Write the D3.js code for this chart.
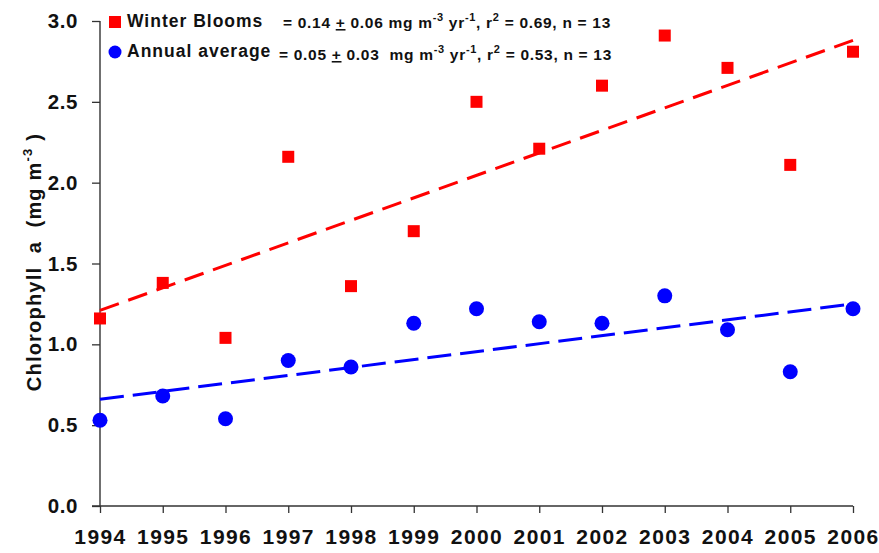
<!DOCTYPE html>
<html>
<head>
<meta charset="utf-8">
<script src="https://cdn.jsdelivr.net/npm/d3@7"></script>
<style>
  html, body { margin: 0; padding: 0; background: #fff; }
  svg { display: block; font-family: "Liberation Sans", Arial, sans-serif; }
</style>
</head>
<body>
<svg id="chart" width="879" height="553"></svg>
<script>
const years = [1994, 1995, 1996, 1997, 1998, 1999, 2000, 2001, 2002, 2003, 2004, 2005, 2006];
const winterBlooms = [1.16, 1.38, 1.04, 2.16, 1.36, 1.70, 2.50, 2.21, 2.60, 2.91, 2.71, 2.11, 2.81];
const annualAverage = [0.53, 0.68, 0.54, 0.90, 0.86, 1.13, 1.22, 1.14, 1.13, 1.30, 1.09, 0.83, 1.22];
const trendYears = [1994, 2006];
const winterTrend = [1.21, 2.88];
const annualTrend = [0.66, 1.25];
const yTicks = [0.0, 0.5, 1.0, 1.5, 2.0, 2.5, 3.0];

const svg = d3.select("#chart");
const x = d3.scaleLinear().domain([1994, 2006]).range([100, 853]);
const y = d3.scaleLinear().domain([0, 3]).range([506, 21]);
const FONT = "Liberation Sans, Arial, sans-serif";

// axes
const yAxis = d3.axisLeft(y).tickValues(yTicks).tickFormat(d3.format(".1f")).tickSize(8).tickPadding(14);
const gy = svg.append("g").attr("transform", "translate(100,0)").call(yAxis);
gy.select(".domain").attr("stroke", "#222").attr("stroke-width", 1.3).attr("d", "M0,21V506");
gy.selectAll(".tick line").attr("stroke", "#333").attr("stroke-width", 1.3);
gy.selectAll(".tick text").attr("font-size", 20.5).attr("font-weight", "bold").attr("fill", "#111")
  .attr("font-family", FONT).attr("letter-spacing", "0.6px");

const xAxis = d3.axisBottom(x).tickValues(years).tickFormat(d3.format("d")).tickSize(7).tickPadding(16);
const gx = svg.append("g").attr("transform", "translate(0,506)").call(xAxis);
gx.select(".domain").attr("stroke", "#333").attr("stroke-width", 1.3).attr("d", "M92,0H853");
gx.selectAll(".tick line").attr("stroke", "#333").attr("stroke-width", 1.3);
gx.selectAll(".tick text").attr("font-size", 21).attr("font-weight", "bold").attr("fill", "#111")
  .attr("font-family", FONT).attr("letter-spacing", "1.4px");

// trend lines
const line = d3.line().x(d => x(d[0])).y(d => y(d[1]));
svg.append("path").datum(trendYears.map((t, i) => [t, winterTrend[i]]))
  .attr("d", line).attr("fill", "none").attr("stroke", "#ff0000").attr("stroke-width", 3)
  .attr("stroke-dasharray", "20,10");
svg.append("path").datum(trendYears.map((t, i) => [t, annualTrend[i]]))
  .attr("d", line).attr("fill", "none").attr("stroke", "#0000ff").attr("stroke-width", 3)
  .attr("stroke-dasharray", "24,9");

// points
const sq = 12;
svg.append("g").selectAll("rect").data(years).join("rect")
  .attr("x", (d) => x(d) - sq / 2)
  .attr("y", (d, i) => y(winterBlooms[i]) - sq / 2)
  .attr("width", sq).attr("height", sq).attr("fill", "#ff0000");
svg.append("g").selectAll("circle").data(years).join("circle")
  .attr("cx", d => x(d)).attr("cy", (d, i) => y(annualAverage[i]))
  .attr("r", 7.5).attr("fill", "#0000ff");

// y-axis title
const yt = svg.append("text")
  .attr("transform", "translate(41,262) rotate(-90)")
  .attr("text-anchor", "middle").attr("font-family", FONT)
  .attr("font-size", 20).attr("font-weight", "bold").attr("fill", "#111").attr("letter-spacing", "1.2px");
yt.append("tspan").text("Chlorophyll\u00a0\u00a0a\u00a0\u00a0(mg m");
yt.append("tspan").attr("font-size", 13).attr("dy", -9).text("-3");
yt.append("tspan").attr("dy", 9).text("\u00a0)");

// legend
const leg = svg.append("g");
leg.append("rect").attr("x", 109).attr("y", 16).attr("width", 12).attr("height", 12).attr("fill", "#ff0000");
leg.append("circle").attr("cx", 115).attr("cy", 52).attr("r", 6.5).attr("fill", "#0000ff");
leg.append("text").attr("x", 127).attr("y", 27).attr("font-size", 17.5).attr("font-weight", "bold")
  .attr("font-family", FONT).attr("fill", "#111").attr("letter-spacing", "1px").text("Winter Blooms");
leg.append("text").attr("x", 127).attr("y", 57).attr("font-size", 17.5).attr("font-weight", "bold")
  .attr("font-family", FONT).attr("fill", "#111").attr("letter-spacing", "1px").text("Annual average");

function equation(xPos, yPos, slope, err, r2, n, gap) {
  const t = leg.append("text").attr("x", xPos).attr("y", yPos).attr("font-family", FONT)
    .attr("font-size", 15.5).attr("font-weight", "bold").attr("fill", "#111").attr("letter-spacing", "0.7px");
  t.append("tspan").text("= " + slope + " ");
  t.append("tspan").attr("text-decoration", "underline").text("+");
  t.append("tspan").text(" " + err + gap + "mg m");
  t.append("tspan").attr("font-size", 11).attr("dy", -7).text("-3");
  t.append("tspan").attr("dy", 7).text(" yr");
  t.append("tspan").attr("font-size", 11).attr("dy", -7).text("-1");
  t.append("tspan").attr("dy", 7).text(", r");
  t.append("tspan").attr("font-size", 11).attr("dy", -7).text("2");
  t.append("tspan").attr("dy", 7).text(" = " + r2 + ", n = " + n);
}
equation(283, 28, "0.14", "0.06", "0.69", 13, " ");
equation(279, 60, "0.05", "0.03", "0.53", 13, "\u00a0\u00a0");
</script>
</body>
</html>
